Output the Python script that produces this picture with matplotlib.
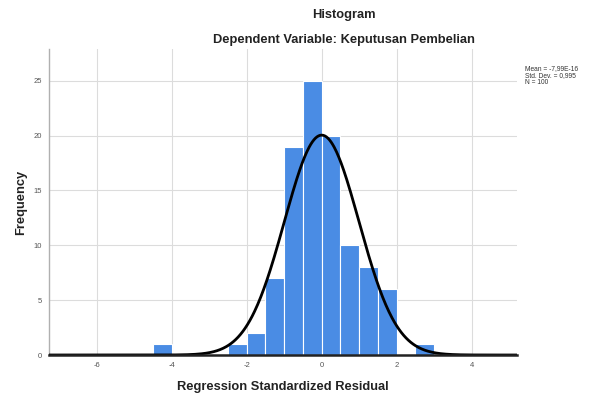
import numpy as np
import matplotlib
matplotlib.use("Agg")
import matplotlib.pyplot as plt

plt.rcParams['font.family'] = ['Liberation Sans', 'DejaVu Sans']
plt.rcParams['axes.unicode_minus'] = False

# Data
bin_left = [-4.5, -2.5, -2.0, -1.5, -1.0, -0.5, 0.0, 0.5, 1.0, 1.5, 2.5]
counts = [1, 1, 2, 7, 19, 25, 20, 10, 8, 6, 1]
bin_width = 0.5
mean = 0.0
std = 0.995
n = 100
xticks = [-6, -4, -2, 0, 2, 4]
yticks = [0, 5, 10, 15, 20, 25]
stats_text = ["Mean = -7,99E-16", "Std. Dev. = 0,995", "N = 100"]

fig = plt.figure(figsize=(5.95, 4.0), dpi=100)
ax = fig.add_axes([0.0824, 0.1125, 0.7866, 0.765])

ax.set_xlim(-7.27, 5.21)
ax.set_ylim(0, 27.9)

ax.set_xticks(xticks)
ax.set_yticks(yticks)
ax.grid(True, color='#dcdcdc', linewidth=0.8, zorder=0)
ax.set_axisbelow(True)

ax.bar(bin_left, counts, width=bin_width, align='edge', color='#4A8CE4',
       edgecolor='white', linewidth=0.8, zorder=2)

xs = np.linspace(-7.27, 5.21, 600)
ys = n * bin_width / (std * np.sqrt(2 * np.pi)) * np.exp(-0.5 * ((xs - mean) / std) ** 2)
ax.plot(xs, ys, color='black', linewidth=2.0, zorder=3)

for s in ['top', 'right']:
    ax.spines[s].set_visible(False)
ax.spines['left'].set_color('#b0b0b0')
ax.spines['left'].set_linewidth(1.0)
ax.spines['bottom'].set_color('#222222')
ax.spines['bottom'].set_linewidth(1.8)
ax.spines['bottom'].set_zorder(4)

ax.tick_params(length=0, labelsize=5.5, colors='#555555', pad=5)

ax.set_xlabel("Regression Standardized Residual", fontsize=9.3, fontweight='bold',
              color='#222222', labelpad=9)
ax.set_ylabel("Frequency", fontsize=9.3, fontweight='bold', color='#222222', labelpad=5)

fig.text(0.578, 0.962, "Histogram", ha='center', va='center', fontsize=9.3,
         fontweight='bold', color='#222222')
fig.text(0.578, 0.899, "Dependent Variable: Keputusan Pembelian", ha='center',
         va='center', fontsize=9.3, fontweight='bold', color='#222222')

for i, t in enumerate(stats_text):
    fig.text(0.882, 0.8275 - i * 0.0165, t, ha='left', va='center', fontsize=4.8,
             color='#333333')

fig.savefig("out.png", dpi=100)
